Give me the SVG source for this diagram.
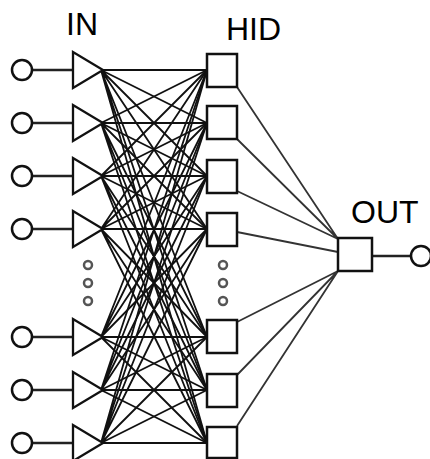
<svg xmlns="http://www.w3.org/2000/svg" width="430" height="459" viewBox="0 0 430 459">
<style>
.lbl{font-family:"Liberation Sans",Arial,sans-serif;font-size:32px;fill:#000}
.node{fill:#fff;stroke:#111;stroke-width:2.5}
.tri{fill:#fff;stroke:#111;stroke-width:2.3;stroke-linejoin:miter}
.lead{stroke:#222;stroke-width:2.5}
.w{stroke:#111;stroke-width:1.8;fill:none}
.wo{stroke:#333;stroke-width:1.8;fill:none}
.dot{fill:none;stroke:#555;stroke-width:2.5}
</style>
<rect width="430" height="459" fill="#fff"/>
<g id="connectors">
<g id="in-hid">
<path class="w" d="M101 70L207 70M101 70L207 123M101 70L207 176M101 70L207 229M101 70L207 337M101 70L207 390M101 70L207 443"/>
<path class="w" d="M101 123L207 70M101 123L207 123M101 123L207 176M101 123L207 229M101 123L207 337M101 123L207 390M101 123L207 443"/>
<path class="w" d="M101 176L207 70M101 176L207 123M101 176L207 176M101 176L207 229M101 176L207 337M101 176L207 390M101 176L207 443"/>
<path class="w" d="M101 229L207 70M101 229L207 123M101 229L207 176M101 229L207 229M101 229L207 337M101 229L207 390M101 229L207 443"/>
<path class="w" d="M101 337L207 70M101 337L207 123M101 337L207 176M101 337L207 229M101 337L207 337M101 337L207 390M101 337L207 443"/>
<path class="w" d="M101 390L207 70M101 390L207 123M101 390L207 176M101 390L207 229M101 390L207 337M101 390L207 390M101 390L207 443"/>
<path class="w" d="M101 443L207 70M101 443L207 123M101 443L207 176M101 443L207 229M101 443L207 337M101 443L207 390M101 443L207 443"/>
</g>
<g id="hid-out">
<path class="wo" d="M237 87L338 239M237 139L338 239M237 191L338 239M237 232L338 252M237 322L338 271M237 375L338 271M237 426L338 271"/>
</g>
<g id="leads">
<path class="lead" d="M32 70H72M32 123H72M32 176H72M32 229H72M32 337H72M32 390H72M32 443H72M372 256H411"/>
</g>
</g>
<g id="in1"><circle class="node" cx="22" cy="70" r="10"/><path class="tri" d="M73 52V88L103 70Z"/></g>
<g id="in2"><circle class="node" cx="22" cy="123" r="10"/><path class="tri" d="M73 105V141L103 123Z"/></g>
<g id="in3"><circle class="node" cx="22" cy="176" r="10"/><path class="tri" d="M73 158V194L103 176Z"/></g>
<g id="in4"><circle class="node" cx="22" cy="229" r="10"/><path class="tri" d="M73 211V247L103 229Z"/></g>
<g id="in5"><circle class="node" cx="22" cy="337" r="10"/><path class="tri" d="M73 319V355L103 337Z"/></g>
<g id="in6"><circle class="node" cx="22" cy="390" r="10"/><path class="tri" d="M73 372V408L103 390Z"/></g>
<g id="in7"><circle class="node" cx="22" cy="443" r="10"/><path class="tri" d="M73 425V461L103 443Z"/></g>
<g id="in-dots"><circle class="dot" cx="88" cy="265" r="4"/><circle class="dot" cx="88" cy="283" r="4"/><circle class="dot" cx="88" cy="301" r="4"/></g>
<g id="hid1"><rect class="node" x="207" y="54" width="30" height="33"/></g>
<g id="hid2"><rect class="node" x="207" y="106" width="30" height="33"/></g>
<g id="hid3"><rect class="node" x="207" y="160" width="30" height="33"/></g>
<g id="hid4"><rect class="node" x="207" y="213" width="30" height="33"/></g>
<g id="hid5"><rect class="node" x="207" y="320" width="30" height="33"/></g>
<g id="hid6"><rect class="node" x="207" y="374" width="30" height="33"/></g>
<g id="hid7"><rect class="node" x="207" y="427" width="30" height="31"/></g>
<g id="hid-dots"><circle class="dot" cx="223" cy="265" r="4"/><circle class="dot" cx="223" cy="283" r="4"/><circle class="dot" cx="223" cy="301" r="4"/></g>
<g id="out"><rect class="node" x="338" y="238" width="34" height="33"/><circle class="node" cx="421" cy="256" r="10"/></g>
<g id="labels">
<text class="lbl" x="66" y="35">IN</text>
<text class="lbl" x="226" y="40">HID</text>
<text class="lbl" x="351" y="223">OUT</text>
</g>
</svg>
